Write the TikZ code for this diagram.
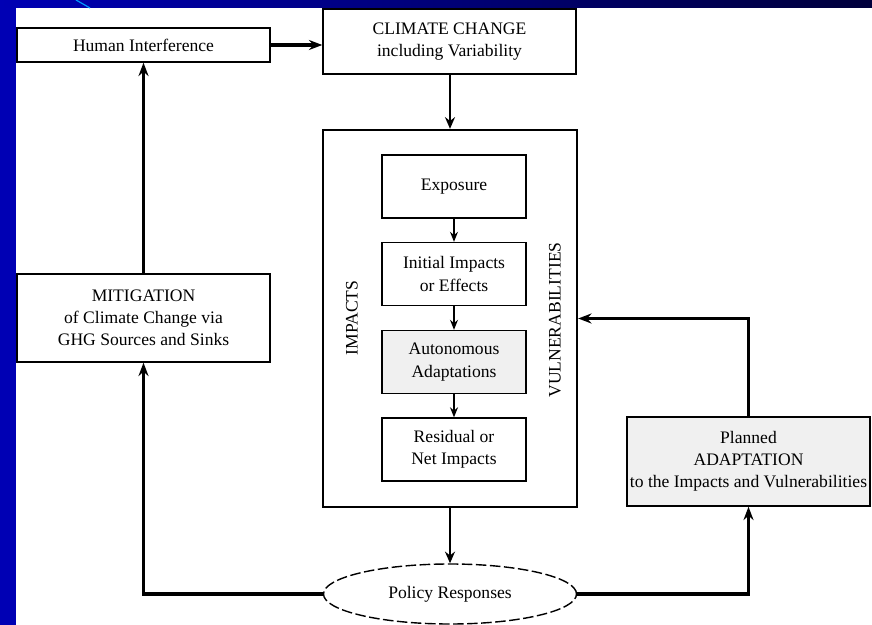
\documentclass[tikz,border=0pt]{standalone}
\usepackage{fontspec}
\setmainfont{Liberation Serif}
\usepackage{xcolor}
\usetikzlibrary{positioning, arrows.meta, shapes.geometric}
\definecolor{slideblue}{RGB}{0,0,180}
\definecolor{slidenavy}{RGB}{0,0,60}
\tikzset{
    box/.style={draw, rectangle, line width=1.2pt, align=center, inner sep=2pt, font=\fontsize{15}{19}\selectfont},
    stage/.style={box, minimum width=4.32cm, minimum height=1.89cm},
    feedback/.style={-{Stealth[length=4mm, width=3mm]}, line width=3pt},
    flow/.style={-{Stealth[length=3mm, width=2.4mm]}, line width=1pt}
}

\begin{document}
\begin{tikzpicture}[x=0.03cm, y=-0.03cm]
\useasboundingbox (0,0) rectangle (872,625);

% --- Slide background ---
\fill[white] (0,0) rectangle (872,625);
\fill[slideblue] (0,0) rectangle (16,625);
\shade[left color=slideblue, right color=slidenavy] (0,0) rectangle (872,8);
\draw[blue!40!cyan, line width=1pt] (76,0) -- (90,8);

% --- Outer boxes ---
\node[box, minimum width=7.59cm, minimum height=1.02cm] (human) at (143.5,45) {Human Interference};
\node[box, minimum width=7.59cm, minimum height=1.95cm] (climate) at (449.5,41.5) {CLIMATE CHANGE\\including Variability};
\node[box, minimum width=7.59cm, minimum height=2.64cm] (mitig) at (143.5,318) {MITIGATION\\of Climate Change via\\GHG Sources and Sinks};
\node[box, fill=gray!12, minimum width=7.29cm, minimum height=2.67cm] (planned) at (748.5,461.5) {Planned\\ADAPTATION\\to the Impacts and Vulnerabilities};
\node[box, ellipse, dash pattern=on 9pt off 3pt, minimum width=7.59cm, minimum height=1.8cm] (policy) at (450,594) {Policy Responses};

% --- Impacts / vulnerabilities block ---
\node[draw, rectangle, line width=2pt, minimum width=7.62cm, minimum height=11.31cm] (vuln) at (450,318.5) {};
\node[box, rotate=90, draw=none] (impacts) at (352,318) {IMPACTS};
\node[box, rotate=90, draw=none] (vlabel) at (555,320) {VULNERABILITIES};

\node[stage] (expo) at (454,186.5) {Exposure};
\node[stage] (init) at (454,274) {Initial Impacts\\or Effects};
\node[stage, fill=gray!12] (auto) at (454,362) {Autonomous\\Adaptations};
\node[stage] (resid) at (454,449.5) {Residual or\\Net Impacts};

% --- Inner chain ---
\draw[flow] (expo) -- (init);
\draw[flow] (init) -- (auto);
\draw[flow] (auto) -- (resid);

% --- Main loop ---
\draw[feedback] (human.east) -- (human.east -| climate.west);
\draw[-{Stealth[length=3.5mm, width=3mm]}, line width=1.6pt] (climate.south -| vuln.north) -- (vuln.north);
\draw[-{Stealth[length=3.5mm, width=3mm]}, line width=1.6pt] (vuln.south) -- (policy.north);
\draw[feedback] (policy.west) -| (mitig.south);
\draw[feedback] (mitig.north) -- (human.south);
\draw[feedback] (policy.east) -| (planned.south);
\draw[feedback] (planned.north) |- (vuln.east);

\end{tikzpicture}
\end{document}
